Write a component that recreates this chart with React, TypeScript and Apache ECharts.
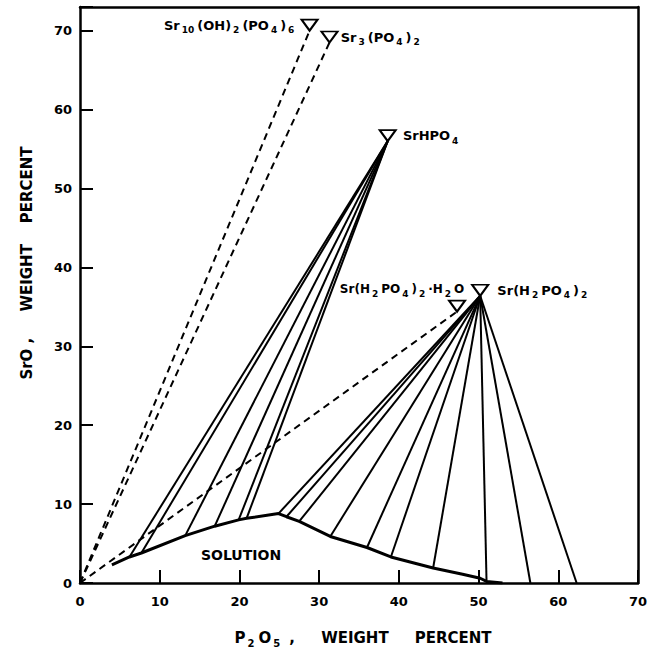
import React, { useEffect, useRef } from 'react';
import * as echarts from 'echarts';

// Axis ticks
const xTicks = [0, 10, 20, 30, 40, 50, 60, 70];
const yTicks = [0, 10, 20, 30, 40, 50, 60, 70];

// Liquidus (solution) curve: [P2O5 %, SrO %]
const solutionCurve: [number, number][] = [
  [4.0, 2.3], [6.2, 3.3], [7.7, 3.8], [13.2, 6.0], [16.9, 7.2], [19.9, 8.0], [20.9, 8.2],
  [24.9, 8.8], [25.9, 8.4], [27.5, 7.8], [31.4, 5.9], [36.0, 4.5], [39.0, 3.3], [44.3, 1.9],
  [48.0, 1.1], [50.2, 0.6], [51.0, 0.2], [53.0, 0.0],
];

// Solid phases
const compoundNames = ['Sr10(OH)2(PO4)6', 'Sr3(PO4)2', 'SrHPO4', 'Sr(H2PO4)2·H2O', 'Sr(H2PO4)2'];
const compoundP2O5 = [28.8, 31.3, 38.6, 47.3, 50.2];
const compoundSrO = [70.0, 68.5, 56.0, 34.4, 36.4];

// Tie-line ends on the solution side
const srhpo4TieEnds: [number, number][] = [
  [6.2, 3.3], [7.7, 3.8], [13.2, 6.0], [16.9, 7.2], [19.9, 8.0], [20.9, 8.2],
];
const srh2po4TieEnds: [number, number][] = [
  [24.9, 8.8], [25.9, 8.4], [27.5, 7.8], [31.4, 5.9], [36.0, 4.5], [39.0, 3.3],
  [44.3, 1.9], [51.0, 0.2], [56.5, 0.0], [62.3, 0.0],
];

// Dashed composition joins from the origin to these phases (indices into compound arrays)
const dashedOrigin: [number, number] = [0, 0];
const dashedTargets = [0, 1, 3];

const FONT = 'DejaVu Sans';
const X_TICK_LEN = 1.65; // in SrO units (≈13px)
const Y_TICK_LEN = 1.63; // in P2O5 units (≈13px)

const toRich = (s: string) => s.replace(/(\d+)/g, '{s|$1}');

export default function App() {
  const ref = useRef<HTMLDivElement>(null);
  useEffect(() => {
    if (!ref.current) return;
    const chart = echarts.init(ref.current, null, { renderer: 'svg' });

    const subStyle = { fontSize: 9, fontWeight: 'bold', fontFamily: FONT, color: '#000', padding: [10, 3, 0, 2] };
    const mainRich = { s: subStyle };

    const labelCfg: any[] = [
      { position: 'left', distance: 3, fontSize: 13 },
      { position: 'right', distance: 2, fontSize: 13 },
      { position: 'right', distance: 6, fontSize: 13 },
      { position: 'top', distance: 1, offset: [-55, 0], fontSize: 12 },
      { position: 'right', distance: 8, fontSize: 13 },
    ];

    const pt = (i: number): [number, number] => [compoundP2O5[i], compoundSrO[i]];

    const frameAxis = {
      type: 'value',
      axisLine: { show: true, onZero: false, lineStyle: { color: '#000', width: 2.5 } },
      axisTick: { show: false },
      axisLabel: { show: false },
      splitLine: { show: false },
    };

    const segment = (a: [number, number], b: [number, number], dashed: boolean) => ({
      type: 'line', data: [a, b], showSymbol: false, symbol: 'none', silent: true, z: 2,
      lineStyle: { color: '#000', width: 2, type: dashed ? [7, 5] : 'solid' },
    });

    const tickMarks = [
      ...xTicks.slice(1, -1).map((x) => [{ coord: [x, 0] }, { coord: [x, X_TICK_LEN] }]),
      ...yTicks.slice(1).map((y) => [{ coord: [0, y] }, { coord: [Y_TICK_LEN, y] }]),
    ];

    const option: any = {
      animation: false,
      grid: { left: 80, right: 24, top: 7, bottom: 78 },
      xAxis: [
        {
          type: 'value', min: xTicks[0], max: xTicks[xTicks.length - 1], interval: 10,
          axisLine: { show: true, onZero: false, lineStyle: { color: '#000', width: 2.5 } },
          axisTick: { show: true, inside: true, length: 13, lineStyle: { color: '#000', width: 2 } },
          axisLabel: { color: '#000', fontSize: 13, fontWeight: 'bold', fontFamily: FONT, margin: 12 },
          splitLine: { show: false },
        },
        { ...frameAxis, position: 'top', min: 0, max: 70 },
      ],
      yAxis: [
        {
          type: 'value', min: yTicks[0], max: 73, interval: 10,
          axisLine: { show: true, onZero: false, lineStyle: { color: '#000', width: 2.5 } },
          axisTick: { show: true, inside: true, length: 13, lineStyle: { color: '#000', width: 2 } },
          axisLabel: {
            color: '#000', fontSize: 13, fontWeight: 'bold', fontFamily: FONT, margin: 8,
            formatter: (v: number) => (yTicks.includes(v) ? String(v) : ''),
          },
          splitLine: { show: false },
        },
        { ...frameAxis, position: 'right', min: 0, max: 73 },
      ],
      graphic: [
        {
          type: 'text', x: 363, y: 638, z: 10,
          style: {
            text: 'P{s|2}O{s|5} ,     WEIGHT     PERCENT',
            fontSize: 15, fontWeight: 'bold', fontFamily: FONT, fill: '#000',
            align: 'center', verticalAlign: 'middle', textAlign: 'center', textVerticalAlign: 'middle',
            rich: { s: { fontSize: 10, fontWeight: 'bold', fontFamily: FONT, fill: '#000', padding: [10, 4, 0, 2] } },
          },
        },
        {
          type: 'text', x: 27, y: 263, rotation: Math.PI / 2, z: 10,
          style: {
            text: 'SrO ,     WEIGHT    PERCENT',
            fontSize: 15, fontWeight: 'bold', fontFamily: FONT, fill: '#000',
            align: 'center', verticalAlign: 'middle', textAlign: 'center', textVerticalAlign: 'middle',
          },
        },
      ],
      series: [
        {
          type: 'line', name: 'solution', data: solutionCurve, showSymbol: false, symbol: 'none',
          lineStyle: { color: '#000', width: 3 }, z: 3, silent: true,
          markPoint: {
            symbol: 'rect', symbolSize: 0, silent: true,
            label: { show: true, formatter: 'SOLUTION', color: '#000', fontSize: 14, fontWeight: 'bold', fontFamily: FONT },
            data: [{ coord: [20.2, 3.5] }],
          },
          markLine: {
            silent: true, symbol: ['none', 'none'],
            label: { show: false },
            lineStyle: { color: '#000', width: 2, type: 'solid', opacity: 1 },
            data: tickMarks,
          },
        },
        ...srhpo4TieEnds.map((e) => segment(pt(2), e, false)),
        ...srh2po4TieEnds.map((e) => segment(pt(4), e, false)),
        ...dashedTargets.map((i) => segment(dashedOrigin, pt(i), true)),
        {
          type: 'line', z: 5, silent: true, showSymbol: true, showAllSymbol: true,
          lineStyle: { width: 0, opacity: 0 },
          symbol: 'path://M0,0L16,0L8,11Z', symbolSize: [16, 11], symbolOffset: [0, '-50%'],
          itemStyle: { color: '#fff', borderColor: '#000', borderWidth: 2, opacity: 1 },
          data: compoundNames.map((n, i) => ({
            value: pt(i),
            label: {
              show: true,
              formatter: toRich(n),
              color: '#000', fontWeight: 'bold', fontFamily: FONT,
              rich: mainRich,
              ...labelCfg[i],
            },
          })),
        },
      ],
    };
    chart.setOption(option);
    return () => chart.dispose();
  }, []);
  return <div ref={ref} style={{ position: 'fixed', left: 0, top: 0, width: 662, height: 661, background: '#fff' }} />;
}
